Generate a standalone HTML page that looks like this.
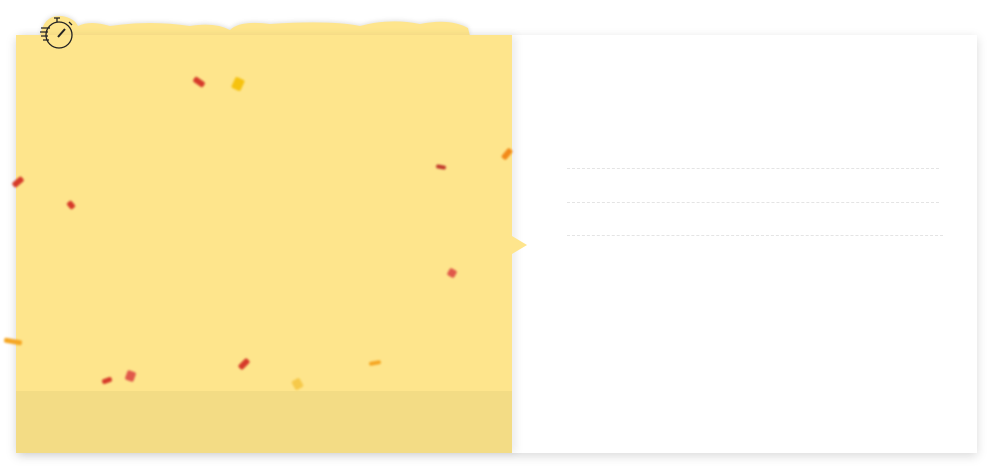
<!DOCTYPE html>
<html><head><meta charset="utf-8"><style>
body{margin:0;width:993px;height:470px;background:#fff;position:relative;overflow:hidden;font-family:"Liberation Sans",sans-serif}
.card{position:absolute;left:16px;top:35px;width:961px;height:418px;background:#fff;box-shadow:0 3px 10px rgba(0,0,0,.15)}
.yellow{position:absolute;left:16px;top:35px;width:496px;height:418px;background:#fee58c;box-shadow:4px 0 8px rgba(0,0,0,.08)}
.band{position:absolute;left:0;bottom:0;width:100%;height:62px;background:#f3dc85}
.dash{position:absolute;left:567px;height:0;border-top:1px dashed #e4e4e4}
.c{position:absolute;width:12px;height:6px;border-radius:2px;filter:blur(1px)}
</style></head><body>
<div class="card"></div>
<svg style="position:absolute;left:0;top:0;filter:drop-shadow(0 -1px 2px rgba(0,0,0,.12))" width="993" height="60">
<path d="M40 36 Q44 14 62 16 Q74 18 78 26 Q90 20 110 26 Q150 20 190 26 Q215 22 230 30 Q240 20 270 24 Q330 20 360 26 Q390 18 420 24 Q450 18 468 28 L470 36 Z" fill="#fee58c"/>
</svg>
<div class="yellow"><div class="band"></div></div>
<svg style="position:absolute;left:510px;top:230px" width="20" height="30"><path d="M2 6 L17 15 L2 24 Z" fill="#fee58c"/></svg>
<svg style="position:absolute;left:38px;top:15px" width="40" height="40" fill="none" stroke="#222" stroke-width="1.3">
<circle cx="21" cy="20" r="13"/><path d="M16 3 L22 3 M19 3 L19 7 M31 7 L34 10"/><path d="M3 13h9 M2 17h8 M3 21h7 M5 25h6" /><path d="M20 22 L27 14" stroke-width="2"/>
</svg>
<div class="dash" style="top:168px;width:372px"></div>
<div class="dash" style="top:202px;width:372px"></div>
<div class="dash" style="top:235px;width:376px"></div>
<div>
<div class="c" style="left:193px;top:79px;background:#d63a2a;transform:rotate(35deg)"></div>
<div class="c" style="left:233px;top:78px;width:10px;height:12px;background:#f6c20f;transform:rotate(25deg)"></div>
<div class="c" style="left:501px;top:151px;background:#f28a1a;transform:rotate(-50deg)"></div>
<div class="c" style="left:12px;top:179px;background:#d63a2a;transform:rotate(-40deg)"></div>
<div class="c" style="left:67px;top:202px;width:8px;background:#d63a2a;transform:rotate(50deg)"></div>
<div class="c" style="left:436px;top:165px;width:10px;height:4px;background:#c0392b;transform:rotate(10deg)"></div>
<div class="c" style="left:448px;top:269px;width:8px;height:8px;background:#e0584a;transform:rotate(30deg)"></div>
<div class="c" style="left:4px;top:339px;width:18px;height:5px;background:#f5a623;transform:rotate(10deg)"></div>
<div class="c" style="left:238px;top:361px;background:#d63a2a;transform:rotate(-45deg)"></div>
<div class="c" style="left:369px;top:361px;width:12px;height:4px;background:#f5a623;transform:rotate(-10deg)"></div>
<div class="c" style="left:126px;top:371px;width:9px;height:10px;background:#e0584a;transform:rotate(20deg)"></div>
<div class="c" style="left:102px;top:378px;width:10px;height:5px;background:#d63a2a;transform:rotate(-20deg)"></div>
<div class="c" style="left:293px;top:379px;width:9px;height:10px;background:#f6c94a;transform:rotate(-30deg)"></div>
</div>
</body></html>
